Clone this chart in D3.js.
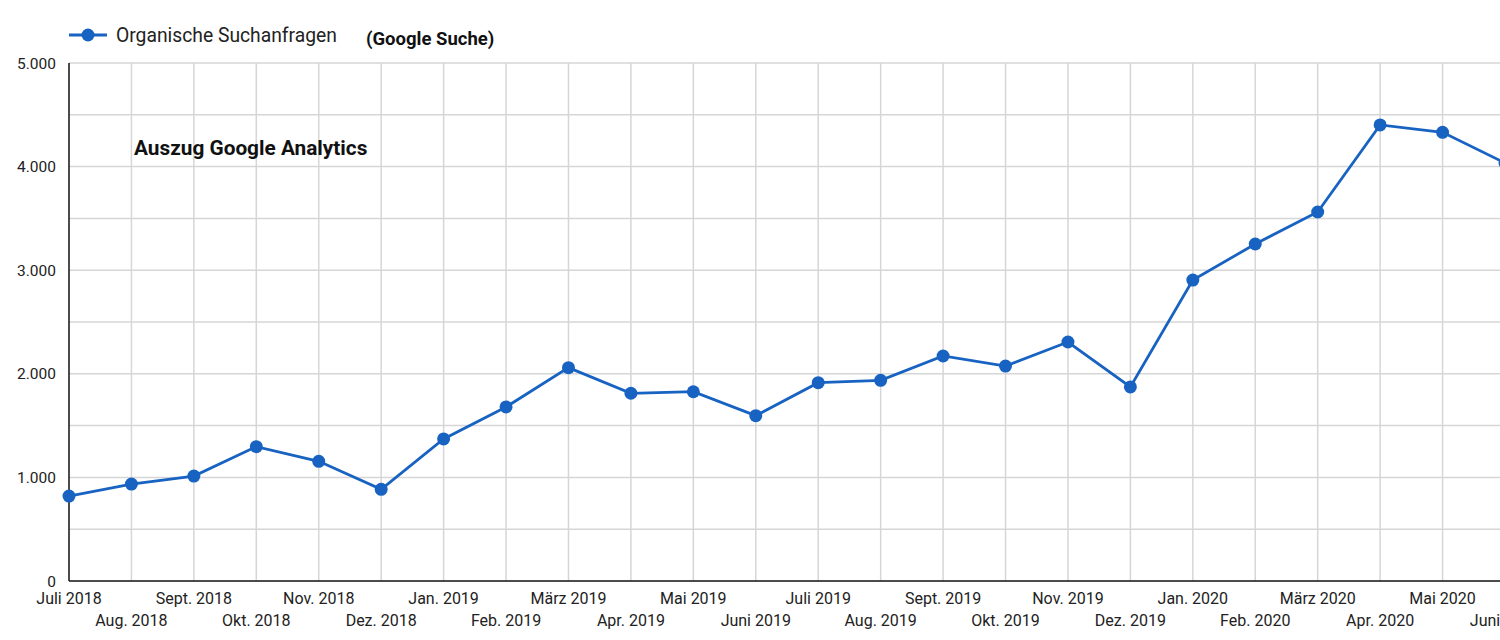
<!DOCTYPE html>
<html><head><meta charset="utf-8">
<script src="https://cdn.jsdelivr.net/npm/d3@7"></script>
<style>
body{margin:0;background:#fff;overflow:hidden}
text{font-family:Roboto,"Noto Sans",sans-serif}
</style></head><body>
<svg id="c" width="1500" height="640"></svg>
<script>
const months = ["Juli 2018","Aug. 2018","Sept. 2018","Okt. 2018","Nov. 2018","Dez. 2018","Jan. 2019","Feb. 2019","März 2019","Apr. 2019","Mai 2019","Juni 2019","Juli 2019","Aug. 2019","Sept. 2019","Okt. 2019","Nov. 2019","Dez. 2019","Jan. 2020","Feb. 2020","März 2020","Apr. 2020","Mai 2020","Juni 2020"];
const values = [820,936,1013,1297,1155,885,1371,1680,2059,1812,1827,1596,1914,1937,2172,2075,2307,1873,2905,3253,3562,4402,4331,4035];
const yTicks = [0,1000,2000,3000,4000,5000];
const yGrid = [500,1000,1500,2000,2500,3000,3500,4000,4500,5000];
const seriesName = "Organische Suchanfragen";
const subtitle = "(Google Suche)";
const annotation = "Auszug Google Analytics";

const svg = d3.select("#c");
const x = d3.scalePoint().domain(months).range([69, 1505]);
const y = d3.scaleLinear().domain([0,5000]).range([581, 63]);
const fmt = v => d3.format(",")(v).replace(/,/g,".");

// grid
svg.append("g").selectAll("line").data(yGrid).join("line")
  .attr("x1",69).attr("x2",1500).attr("y1",d=>y(d)).attr("y2",d=>y(d))
  .attr("stroke","#d6d6d6").attr("stroke-width",1.5);
svg.append("g").selectAll("line").data(months.slice(1)).join("line")
  .attr("x1",d=>x(d)).attr("x2",d=>x(d)).attr("y1",63).attr("y2",581)
  .attr("stroke","#d6d6d6").attr("stroke-width",1.5);

// y labels
svg.append("g").selectAll("text").data(yTicks).join("text")
  .attr("x",56).attr("y",d=>y(d)+5.5).attr("text-anchor","end")
  .attr("font-size",15.5).attr("fill","#222").text(fmt);

// axes lines
svg.append("line").attr("x1",69).attr("x2",69).attr("y1",63).attr("y2",581).attr("stroke","#111").attr("stroke-width",1.5);
svg.append("line").attr("x1",69).attr("x2",1500).attr("y1",581).attr("y2",581).attr("stroke","#111").attr("stroke-width",1.5);

// x labels
svg.append("g").selectAll("text").data(months).join("text")
  .attr("x",d=>x(d)).attr("y",(d,i)=> i%2===0 ? 604 : 626)
  .attr("text-anchor","middle").attr("font-size",16).attr("fill","#222").text(d=>d);

// line
const color = "#1863c2";
svg.append("path").datum(values)
  .attr("d", d3.line().x((d,i)=>x(months[i])).y(d=>y(d)))
  .attr("fill","none").attr("stroke",color).attr("stroke-width",2.8);
svg.append("g").selectAll("circle").data(values).join("circle")
  .attr("cx",(d,i)=>x(months[i])).attr("cy",d=>y(d)).attr("r",6.5).attr("fill",color);

// legend
svg.append("line").attr("x1",69).attr("x2",107).attr("y1",35).attr("y2",35).attr("stroke",color).attr("stroke-width",2.8);
svg.append("circle").attr("cx",88).attr("cy",35).attr("r",6.5).attr("fill",color);
svg.append("text").attr("x",116).attr("y",42).attr("font-size",19.3).attr("fill","#222").text(seriesName);
svg.append("text").attr("x",366).attr("y",45).attr("font-size",18.5).attr("font-weight","bold").attr("fill","#111").text(subtitle);
svg.append("text").attr("x",134).attr("y",155).attr("font-size",20.8).attr("font-weight","bold").attr("fill","#111").text(annotation);
</script></body></html>
